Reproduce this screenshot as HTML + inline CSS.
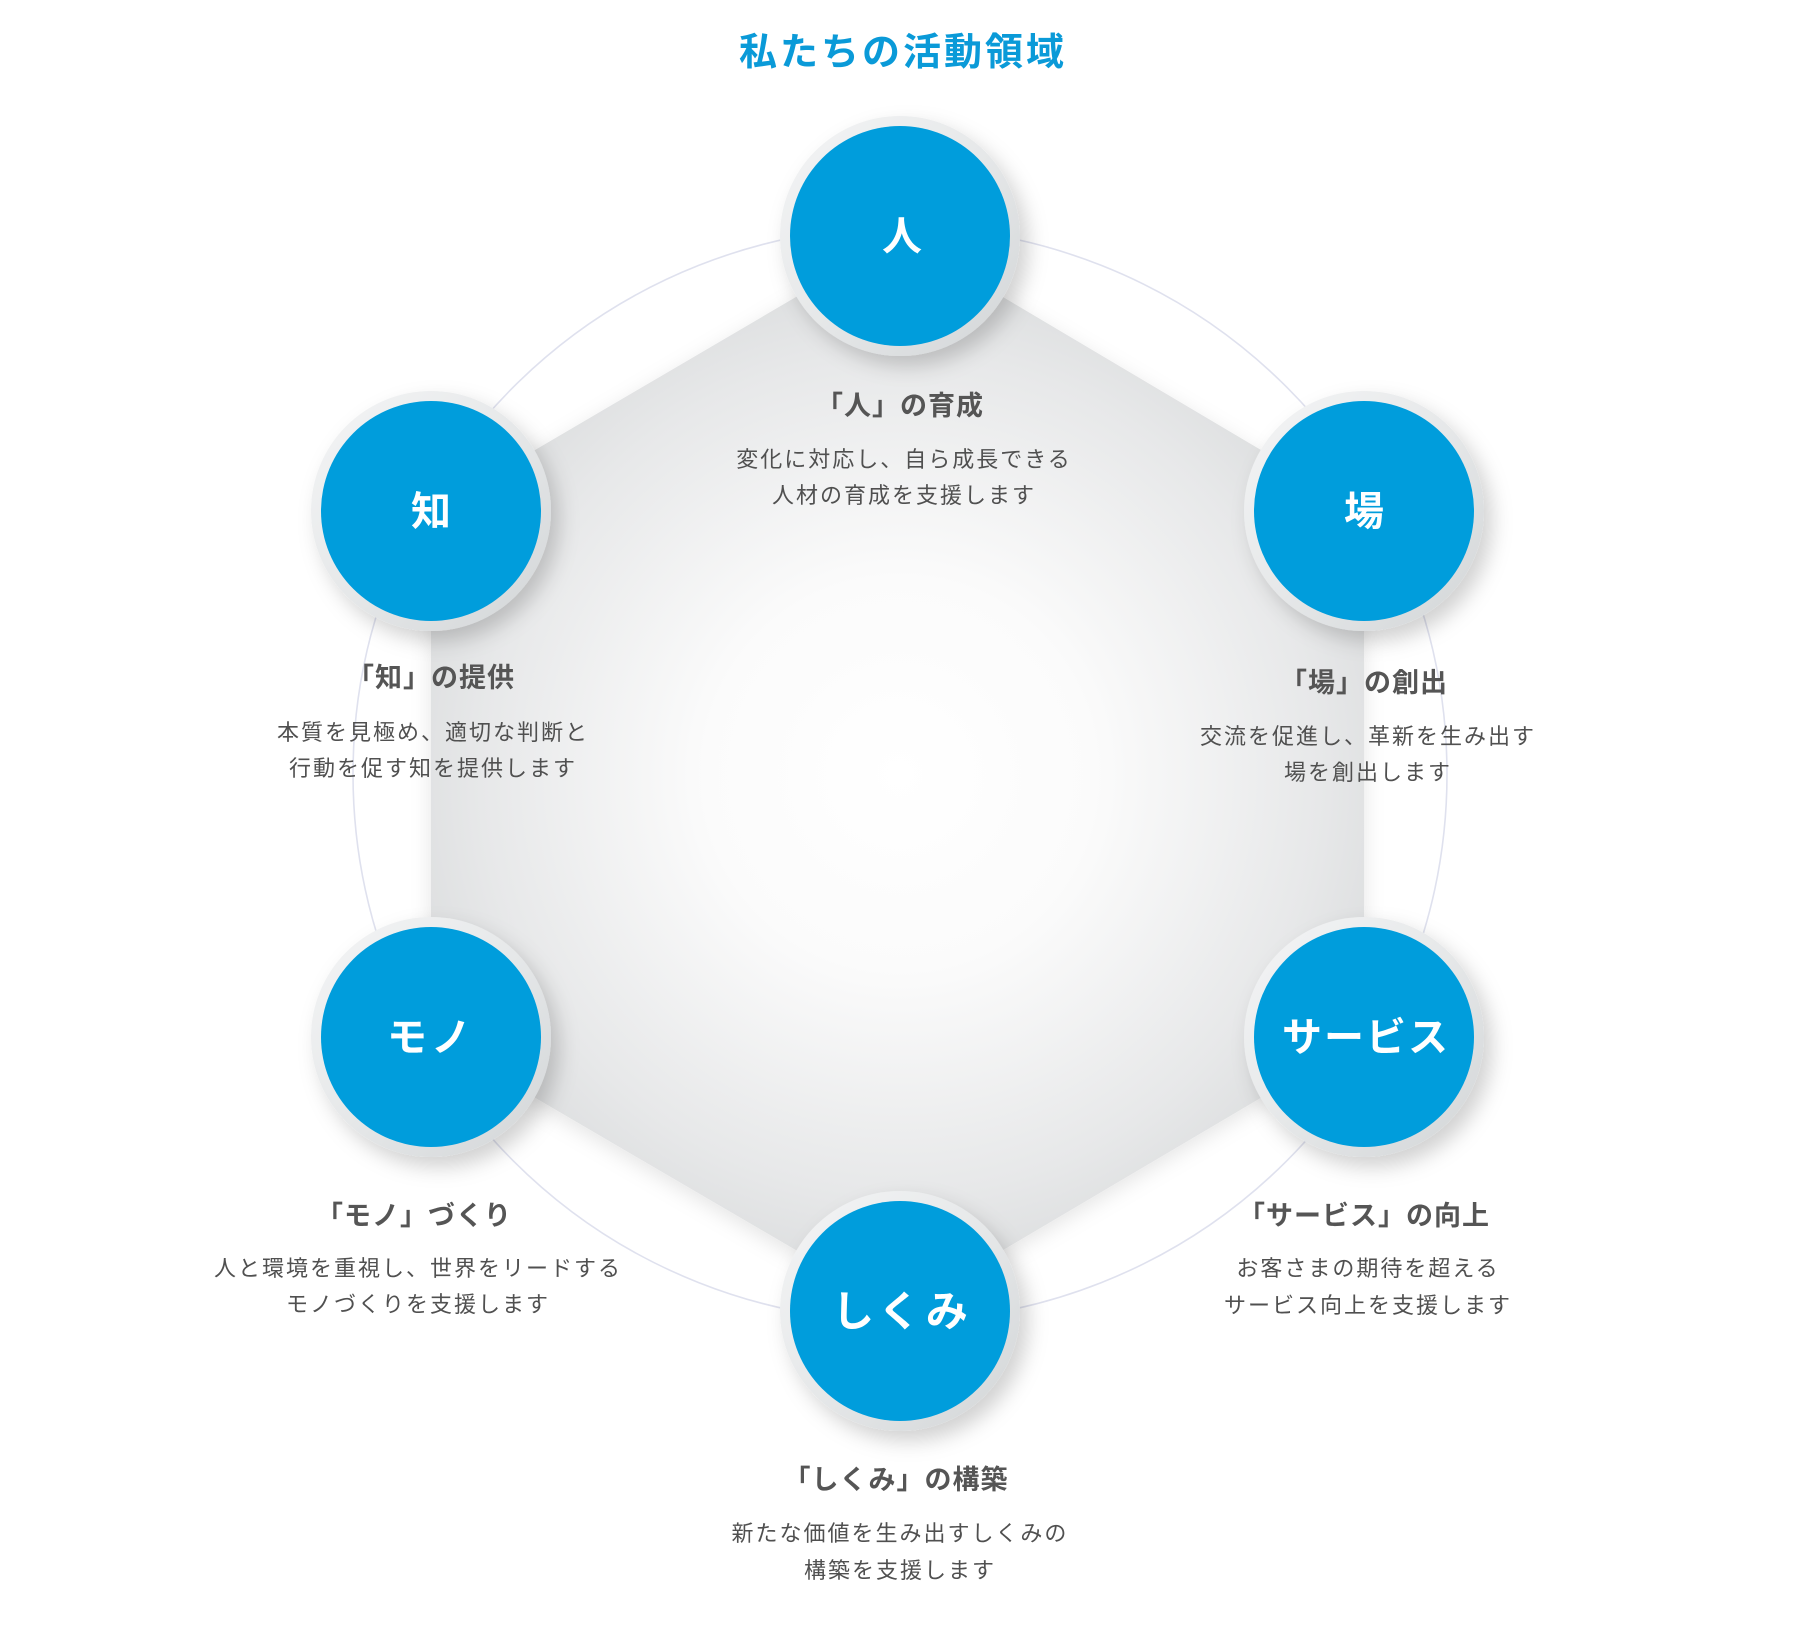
<!DOCTYPE html>
<html><head><meta charset="utf-8">
<style>
html,body{margin:0;padding:0;background:#fff;}
svg{display:block;}
text{font-family:"Liberation Sans","Noto Sans CJK JP",sans-serif;}
</style></head>
<body>
<svg width="1812" height="1642" viewBox="0 0 1812 1642" xmlns="http://www.w3.org/2000/svg">
<defs>
<radialGradient id="hexg" cx="900" cy="774" r="560" gradientUnits="userSpaceOnUse">
<stop offset="0" stop-color="#ffffff"/>
<stop offset="0.35" stop-color="#fbfbfb"/>
<stop offset="0.75" stop-color="#e7e8e9"/>
<stop offset="1" stop-color="#d6d8d9"/>
</radialGradient>
<linearGradient id="ringg" x1="0" y1="0" x2="1" y2="1">
<stop offset="0" stop-color="#f4f5f6"/>
<stop offset="0.5" stop-color="#e6e8e9"/>
<stop offset="1" stop-color="#d2d5d7"/>
</linearGradient>
<filter id="hs" x="-20%" y="-20%" width="140%" height="140%">
<feDropShadow dx="0" dy="6" stdDeviation="10" flood-color="#000" flood-opacity="0.10"/>
</filter>
<filter id="cs" x="-30%" y="-30%" width="160%" height="160%">
<feDropShadow dx="8" dy="10" stdDeviation="10" flood-color="#000" flood-opacity="0.18"/>
</filter>
</defs>

<text x="903" y="65" text-anchor="middle" font-size="38" font-weight="bold" fill="#0a9ad8" letter-spacing="3">私たちの活動領域</text>

<circle cx="900" cy="774" r="547" fill="none" stroke="#dfe1ee" stroke-width="1.6"/>

<polygon points="900,236 1364,511 1364,1037 900,1311 431,1037 431,511" fill="url(#hexg)" filter="url(#hs)"/>

<g filter="url(#cs)">
<circle cx="900" cy="236" r="120" fill="url(#ringg)"/>
<circle cx="431" cy="511" r="120" fill="url(#ringg)"/>
<circle cx="1364" cy="511" r="120" fill="url(#ringg)"/>
<circle cx="431" cy="1037" r="120" fill="url(#ringg)"/>
<circle cx="1364" cy="1037" r="120" fill="url(#ringg)"/>
<circle cx="900" cy="1311" r="120" fill="url(#ringg)"/>
</g>
<g fill="#009ddc">
<circle cx="900" cy="236" r="110"/>
<circle cx="431" cy="511" r="110"/>
<circle cx="1364" cy="511" r="110"/>
<circle cx="431" cy="1037" r="110"/>
<circle cx="1364" cy="1037" r="110"/>
<circle cx="900" cy="1311" r="110"/>
</g>
<g fill="#fff" font-size="40" font-weight="bold" text-anchor="middle">
<text x="902" y="250">人</text>
<text x="431" y="525">知</text>
<text x="1364" y="525">場</text>
<text x="431" y="1051" letter-spacing="4">モノ</text>
<text x="1366" y="1051" letter-spacing="2">サービス</text>
<text x="902" y="1326" font-size="42" letter-spacing="4">しくみ</text>
</g>

<g fill="#555" font-size="27" font-weight="bold" text-anchor="middle" letter-spacing="1">
<text x="900" y="415">「人」の育成</text>
<text x="431" y="687">「知」の提供</text>
<text x="1364" y="692">「場」の創出</text>
<text x="414" y="1225">「モノ」づくり</text>
<text x="1364" y="1225">「サービス」の向上</text>
<text x="896" y="1489">「しくみ」の構築</text>
</g>
<g fill="#505050" font-size="22" text-anchor="middle" letter-spacing="2">
<text x="904" y="467">変化に対応し、自ら成長できる</text>
<text x="904" y="503">人材の育成を支援します</text>
<text x="433" y="740">本質を見極め、適切な判断と</text>
<text x="433" y="776">行動を促す知を提供します</text>
<text x="1368" y="744">交流を促進し、革新を生み出す</text>
<text x="1368" y="780">場を創出します</text>
<text x="418" y="1276">人と環境を重視し、世界をリードする</text>
<text x="418" y="1312">モノづくりを支援します</text>
<text x="1368" y="1276">お客さまの期待を超える</text>
<text x="1368" y="1313">サービス向上を支援します</text>
<text x="900" y="1541">新たな価値を生み出すしくみの</text>
<text x="900" y="1578">構築を支援します</text>
</g>
</svg>
</body></html>
